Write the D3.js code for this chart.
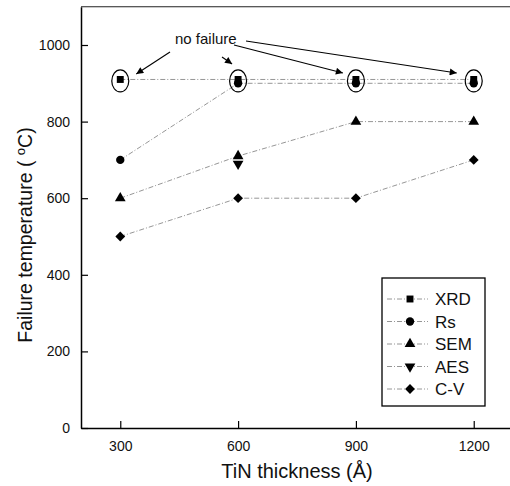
<!DOCTYPE html>
<html><head><meta charset="utf-8">
<script src="https://cdn.jsdelivr.net/npm/d3@7"></script>
<style>
html,body{margin:0;padding:0;background:#fff;}
svg{display:block;font-family:"Liberation Sans",Arial,sans-serif;}
</style></head>
<body>
<svg id="chart" width="510" height="486"></svg>
<script>
const thickness = [300, 600, 900, 1200];
const xTicks = [300, 600, 900, 1200];
const yTicks = [0, 200, 400, 600, 800, 1000];
const xrd = [910, 910, 910, 910];
const rs  = [700, 900, 900, 900];
const sem = [600, 710, 800, 800];
const aes = [null, 690, null, null];
const cv  = [500, 600, 600, 700];
const seriesNames = ["XRD", "Rs", "SEM", "AES", "C-V"];
const noFailure = [300, 600, 900, 1200];

const svg = d3.select("#chart");
const x = d3.scaleLinear().domain([200, 1300]).range([81, 513]);
const y = d3.scaleLinear().domain([0, 1100]).range([428, 6.7]);

const series = [
  {name: "XRD", vals: xrd, sym: d3.symbolSquare, size: 48, rot: 0},
  {name: "Rs",  vals: rs,  sym: d3.symbolCircle, size: 55, rot: 0},
  {name: "SEM", vals: sem, sym: d3.symbolTriangle, size: 50, rot: 0},
  {name: "AES", vals: aes, sym: d3.symbolTriangle, size: 50, rot: 180},
  {name: "C-V", vals: cv,  sym: d3.symbolSquare, size: 48, rot: 45}
];

function symPath(s){ return d3.symbol(s.sym, s.size)(); }
function symTr(px, py, s){ return `translate(${px},${py})` + (s.rot ? ` rotate(${s.rot})` : ""); }

// lines
const line = d3.line().defined(d => d[1] != null).x(d => x(d[0])).y(d => y(d[1]));
series.forEach(s => {
  const pts = thickness.map((t, i) => [t, s.vals[i]]);
  svg.append("path").attr("d", line(pts)).attr("fill", "none")
    .attr("stroke", "#8a8a8a").attr("stroke-width", 0.9)
    .attr("stroke-dasharray", "5,2,1,2");
});

// markers
series.forEach(s => {
  thickness.forEach((t, i) => {
    const v = s.vals[i];
    if (v == null) return;
    svg.append("path").attr("d", symPath(s)).attr("transform", symTr(x(t), y(v), s)).attr("fill", "#000");
  });
});

// ellipses around no-failure points
noFailure.forEach((t, i) => {
  svg.append("ellipse").attr("cx", x(t)).attr("cy", y(xrd[i]) + 1.5)
    .attr("rx", 8.5).attr("ry", 11).attr("fill", "none")
    .attr("stroke", "#000").attr("stroke-width", 1.2);
});

// axes
const yAxis = d3.axisLeft(y).tickValues(yTicks).tickFormat(d3.format("d")).tickSize(-7).tickSizeOuter(0).tickPadding(11);
const gy = svg.append("g").attr("transform", `translate(${x(200)},0)`).call(yAxis);
const xAxis = d3.axisBottom(x).tickValues(xTicks).tickFormat(d3.format("d")).tickSize(-7).tickSizeOuter(0).tickPadding(13);
const gx = svg.append("g").attr("transform", `translate(0,${y(0)})`).call(xAxis);
[gy, gx].forEach(g => {
  g.selectAll("text").attr("font-size", 14).attr("fill", "#111")
    .attr("font-family", "'Liberation Sans',Arial,sans-serif");
  g.select(".domain").attr("stroke", "#000").attr("stroke-width", 1.5);
  g.selectAll(".tick line").attr("stroke", "#000").attr("stroke-width", 1.2);
});
// top frame line
svg.append("line").attr("x1", x(200)).attr("x2", 513).attr("y1", y(1100)).attr("y2", y(1100))
  .attr("stroke", "#222").attr("stroke-width", 1.1);

// axis titles
svg.append("text").attr("x", 297).attr("y", 478).attr("text-anchor", "middle")
  .attr("font-size", 20).attr("fill", "#111").text("TiN thickness (Å)");
const yt = svg.append("text").attr("transform", "translate(32,235) rotate(-90)")
  .attr("text-anchor", "middle").attr("font-size", 19.5).attr("fill", "#111");
yt.append("tspan").text("Failure temperature ( ");
yt.append("tspan").attr("dy", -7).attr("font-size", 13).text("o");
yt.append("tspan").attr("dy", 7).text("C)");

// annotation
svg.append("text").attr("x", 175).attr("y", 44).attr("font-size", 15).attr("fill", "#111").text("no failure");
const defs = svg.append("defs");
defs.append("marker").attr("id", "ah").attr("viewBox", "0 0 10 10").attr("refX", 10).attr("refY", 5)
  .attr("markerWidth", 9).attr("markerHeight", 7).attr("markerUnits", "userSpaceOnUse").attr("orient", "auto")
  .append("path").attr("d", "M0,0 L10,5 L0,10 z").attr("fill", "#000");
const arrowStarts = [[170, 52], [222, 57], [234, 45], [246, 41]];
const arrowOffsets = [[16, -7], [-6, -17], [-13, -8], [-17, -8]];
noFailure.forEach((t, i) => {
  svg.append("line").attr("x1", arrowStarts[i][0]).attr("y1", arrowStarts[i][1])
    .attr("x2", x(t) + arrowOffsets[i][0]).attr("y2", y(xrd[i]) + 1.5 + arrowOffsets[i][1])
    .attr("stroke", "#000").attr("stroke-width", 1.1).attr("marker-end", "url(#ah)");
});

// legend
const lg = svg.append("g");
lg.append("rect").attr("x", 382).attr("y", 278).attr("width", 103).attr("height", 128)
  .attr("fill", "#fff").attr("stroke", "#000").attr("stroke-width", 1.3);
series.forEach((s, i) => {
  const yy = 299 + i * 22.5;
  lg.append("line").attr("x1", 387).attr("x2", 428).attr("y1", yy).attr("y2", yy)
    .attr("stroke", "#8a8a8a").attr("stroke-width", 0.9).attr("stroke-dasharray", "5,2,1,2");
  lg.append("path").attr("d", symPath(s)).attr("transform", symTr(410, yy, s)).attr("fill", "#000");
  lg.append("text").attr("x", 435).attr("y", yy + 6).attr("font-size", 17).attr("fill", "#111").text(seriesNames[i]);
});
</script>
</body></html>
